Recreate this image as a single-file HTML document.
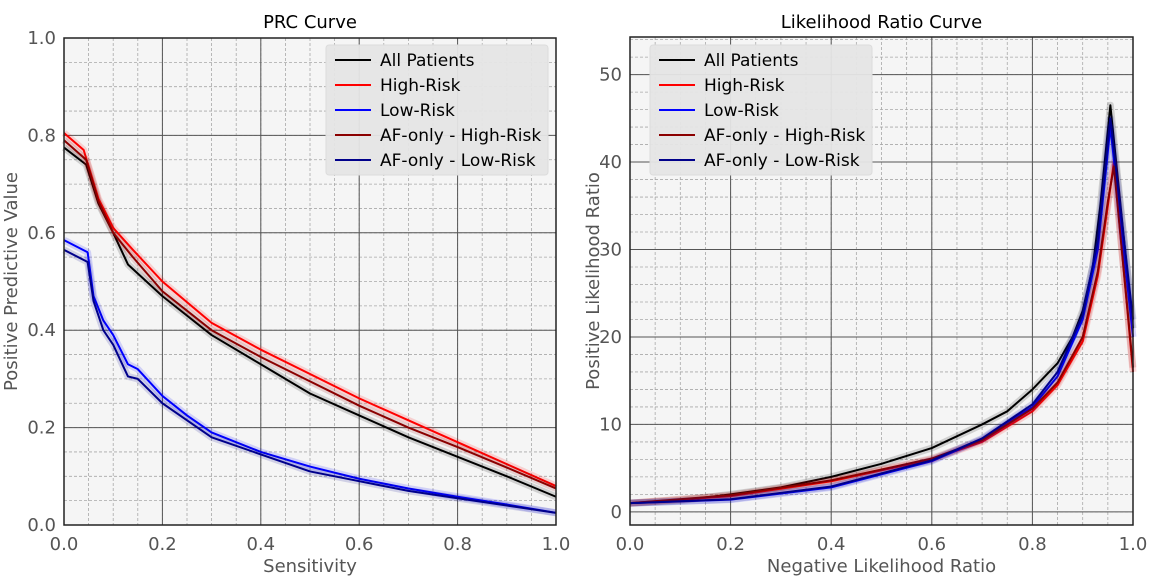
<!DOCTYPE html>
<html><head><meta charset="utf-8">
<style>
html,body{margin:0;padding:0;background:#fff;}
svg{display:block;font-family:"DejaVu Sans","Liberation Sans",sans-serif;}
</style></head>
<body>
<svg id="fig" width="1160" height="578" viewBox="0 0 1160 578" xmlns="http://www.w3.org/2000/svg"></svg>
<script>
// ---- PRC data ----
const prcAllX=[0,0.045,0.07,0.1,0.13,0.2,0.3,0.4,0.5,0.6,0.7,0.8,0.9,1.0];
const prcAllY=[0.775,0.74,0.66,0.6,0.535,0.47,0.39,0.33,0.27,0.225,0.18,0.14,0.1,0.058];
const prcHighX=[0,0.04,0.07,0.1,0.14,0.2,0.3,0.4,0.5,0.6,0.7,0.8,0.9,1.0];
const prcHighY=[0.805,0.77,0.67,0.61,0.565,0.5,0.415,0.36,0.31,0.26,0.215,0.17,0.125,0.08];
const prcAfHighX=[0,0.045,0.07,0.1,0.14,0.2,0.3,0.4,0.5,0.6,0.7,0.8,0.9,1.0];
const prcAfHighY=[0.79,0.75,0.665,0.6,0.55,0.48,0.4,0.345,0.295,0.245,0.2,0.16,0.118,0.075];
const prcLowX=[0,0.048,0.06,0.08,0.1,0.13,0.15,0.2,0.25,0.3,0.4,0.5,0.6,0.7,0.8,0.9,1.0];
const prcLowY=[0.585,0.56,0.47,0.42,0.39,0.33,0.32,0.265,0.225,0.19,0.15,0.12,0.095,0.075,0.058,0.042,0.025];
const prcAfLowX=[0,0.048,0.06,0.08,0.1,0.13,0.15,0.2,0.25,0.3,0.4,0.5,0.6,0.7,0.8,0.9,1.0];
const prcAfLowY=[0.565,0.54,0.46,0.4,0.37,0.305,0.3,0.25,0.215,0.18,0.145,0.11,0.09,0.07,0.055,0.04,0.025];
// ---- LR data ----
const lrAllX=[0,0.1,0.2,0.3,0.4,0.5,0.6,0.7,0.75,0.8,0.85,0.88,0.9,0.92,0.935,0.955,1.0];
const lrAllY=[1,1.3,2,2.8,4,5.5,7.3,10,11.5,14,17,20,23,28,35,46.5,21];
const lrHighX=[0,0.2,0.4,0.6,0.7,0.8,0.85,0.9,0.93,0.95,0.962,1.0];
const lrHighY=[1,1.8,3.5,6,8,11.5,14.5,19.5,27,35,40,16];
const lrAfHighX=[0,0.2,0.4,0.6,0.7,0.8,0.85,0.9,0.93,0.95,0.962,1.0];
const lrAfHighY=[1,1.9,3.6,6.1,8.2,11.8,14.8,20,27.5,35.5,39.5,16.5];
const lrLowX=[0,0.2,0.4,0.6,0.7,0.8,0.85,0.9,0.93,0.955,1.0];
const lrLowY=[1,1.4,2.8,5.8,8.3,12,15.5,22,30,44,20];
const lrAfLowX=[0,0.2,0.4,0.6,0.7,0.8,0.85,0.9,0.93,0.955,1.0];
const lrAfLowY=[1,1.45,2.9,5.9,8.4,12.3,16,22.5,31,45,22];
const legendLabels=["All Patients","High-Risk","Low-Risk","AF-only - High-Risk","AF-only - Low-Risk"];
const colors=["#000000","#ff0000","#0000ff","#8b0000","#00008b"];
const prcTicks=[0,0.2,0.4,0.6,0.8,1.0];
const lrYTicks=[0,10,20,30,40,50];

const NS="http://www.w3.org/2000/svg";
const svg=document.getElementById('fig');
function mk(tag,attrs,parent){const e=document.createElementNS(NS,tag);for(const k in attrs)e.setAttribute(k,attrs[k]);(parent||svg).appendChild(e);return e;}

function drawPanel(P){
  const g=mk('g',{});
  
  
  const sx=v=>P.x0+(v-P.xmin)/(P.xmax-P.xmin)*(P.x1-P.x0);
  const sy=v=>P.y0-(v-P.ymin)/(P.ymax-P.ymin)*(P.y0-P.y1);
  const bg=mk('rect',{x:P.x0,y:P.y1,width:P.x1-P.x0,height:P.y0-P.y1,fill:'#f5f5f5'},g);
  
  
  for(let v=P.xmin;v<=P.xmax+1e-9;v+=P.xminor){mk('line',{x1:sx(v),x2:sx(v),y1:P.y1,y2:P.y0,stroke:'#a8a8a8','stroke-width':0.8,'stroke-dasharray':'3,2'},g);}
  for(let v=P.yminorStart;v<=P.ymax+1e-9;v+=P.yminor){if(v<P.ymin)continue;mk('line',{x1:P.x0,x2:P.x1,y1:sy(v),y2:sy(v),stroke:'#a8a8a8','stroke-width':0.8,'stroke-dasharray':'3,2'},g);}
  P.xticks.forEach(v=>{
    mk('line',{x1:sx(v),x2:sx(v),y1:P.y1,y2:P.y0,stroke:'#555','stroke-width':1},g);
    const t=mk('text',{x:sx(v),y:P.y0+25,'text-anchor':'middle','font-size':18,fill:'#555'},g);
    t.textContent=v.toFixed(1);
    
    
  });
  P.yticks.forEach(v=>{
    mk('line',{x1:P.x0,x2:P.x1,y1:sy(v),y2:sy(v),stroke:'#555','stroke-width':1},g);
    const t=mk('text',{x:P.x0-8,y:sy(v)+6,'text-anchor':'end','font-size':18,fill:'#555'},g);
    t.textContent=P.yfmt(v);
    
    
  });
  P.series.forEach((s,i)=>{
    const pts=s.x.map((xv,j)=>sx(xv)+','+sy(s.y[j])).join(' ');
    const band=mk('polyline',{points:pts,fill:'none',stroke:colors[i],'stroke-opacity':0.15,'stroke-width':7,'stroke-linejoin':'round'},g);
    
    
    const l=mk('polyline',{points:pts,fill:'none',stroke:colors[i],'stroke-width':2,'stroke-linejoin':'round'},g);
    
    
  });
  const fr=mk('rect',{x:P.x0,y:P.y1,width:P.x1-P.x0,height:P.y0-P.y1,fill:'none',stroke:'#222','stroke-width':1.5},g);
  
  
  const ti=mk('text',{x:(P.x0+P.x1)/2,y:28,'text-anchor':'middle','font-size':18,fill:'#000'},g);
  ti.textContent=P.title;
  
  
  const xl=mk('text',{x:(P.x0+P.x1)/2,y:572,'text-anchor':'middle','font-size':18,fill:'#555'},g);
  xl.textContent=P.xlabel;
  
  
  const cy=(P.y0+P.y1)/2;
  const yl=mk('text',{x:P.ylx,y:cy,'text-anchor':'middle','font-size':18,fill:'#555',transform:'rotate(-90 '+P.ylx+' '+cy+')'},g);
  yl.textContent=P.ylabel;
  
  
  const lg=mk('g',{},g);
  
  
  mk('rect',{x:P.lx,y:45,width:222,height:130,rx:3,fill:'#e5e5e5','fill-opacity':0.95,stroke:'#dcdcdc'},lg);
  legendLabels.forEach((lab,i)=>{
    const yy=60+i*25;
    const e=mk('g',{},lg);
    
    
    mk('line',{x1:P.lx+9,x2:P.lx+45,y1:yy,y2:yy,stroke:colors[i],'stroke-width':2},e);
    const t=mk('text',{x:P.lx+54,y:yy+6,'font-size':17,fill:'#000'},e);
    t.textContent=lab;
  });
}

drawPanel({name:'prc-chart',title:'PRC Curve',xlabel:'Sensitivity',ylabel:'Positive Predictive Value',ylx:17,
  x0:64,x1:556,y0:525,y1:38,xmin:0,xmax:1,ymin:0,ymax:1,xminor:0.05,yminor:0.05,yminorStart:0,
  xticks:prcTicks,yticks:prcTicks,yfmt:v=>v.toFixed(1),lx:326,
  series:[{x:prcAllX,y:prcAllY},{x:prcHighX,y:prcHighY},{x:prcLowX,y:prcLowY},{x:prcAfHighX,y:prcAfHighY},{x:prcAfLowX,y:prcAfLowY}]});
drawPanel({name:'likelihood-ratio-chart',title:'Likelihood Ratio Curve',xlabel:'Negative Likelihood Ratio',ylabel:'Positive Likelihood Ratio',ylx:599,
  x0:630,x1:1133,y0:525,y1:37,xmin:0,xmax:1,ymin:-1.5,ymax:54.3,xminor:0.05,yminor:2,yminorStart:0,
  xticks:prcTicks,yticks:lrYTicks,yfmt:v=>String(v),lx:650,
  series:[{x:lrAllX,y:lrAllY},{x:lrHighX,y:lrHighY},{x:lrLowX,y:lrLowY},{x:lrAfHighX,y:lrAfHighY},{x:lrAfLowX,y:lrAfLowY}]});
</script>
</body></html>
